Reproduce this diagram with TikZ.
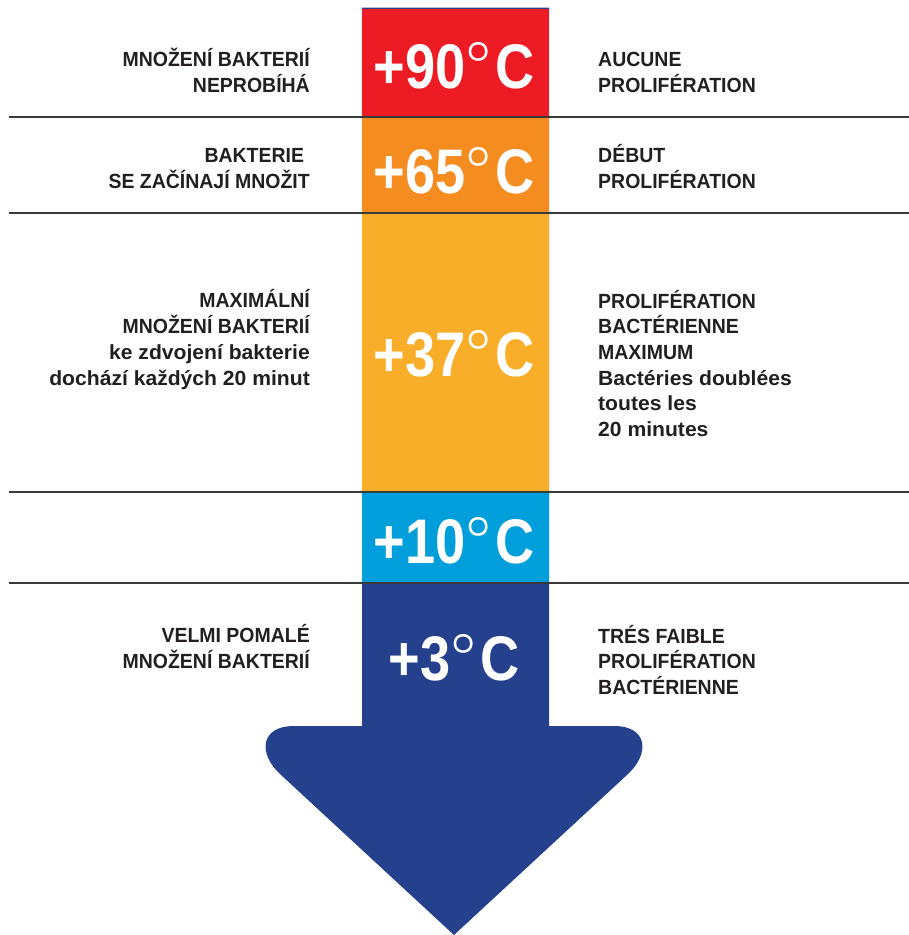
\documentclass[tikz,border=0pt]{standalone}
\usepackage{fontspec}
\setmainfont{Liberation Sans}
\newfontfamily\labelfont{Liberation Sans}[FakeStretch=0.95]
\newfontfamily\lowerfont{Liberation Sans}[FakeStretch=1.03]
\newfontfamily\tempfont{Liberation Sans}[FakeStretch=0.86]

% open degree ring used in the temperature labels
\newcommand\degring{\kern1.7pt\raisebox{26pt}{\scalebox{1.7}{\fontsize{24.88}{25}\selectfont\boldmath$\circ$}}\kern4.2pt}

\definecolor{ink}{HTML}{231F20}
\definecolor{hotred}{HTML}{ED1C24}
\definecolor{warmorange}{HTML}{F48C20}
\definecolor{bodyyellow}{HTML}{F9AE29}
\definecolor{coolblue}{HTML}{009EDB}
\definecolor{deepblue}{HTML}{25418E}
\definecolor{rule}{HTML}{3A3A3A}

\begin{document}
\begin{tikzpicture}[x=1pt,y=-1pt,
  labeltext/.style={text=ink, inner sep=0pt,
    font=\labelfont\bfseries\fontsize{20.5}{25.7}\selectfont},
  lefttext/.style={labeltext, align=right, anchor=base east},
  righttext/.style={labeltext, align=left, anchor=base west},
  temp/.style={text=white, inner sep=0pt, anchor=base,
    font=\tempfont\bfseries\fontsize{63}{63}\selectfont},
  separator/.style={draw=rule, line width=1.3pt},
]
\useasboundingbox (0,0) rectangle (909,935);

% the thermometer arrow: column plus rounded head
\fill[deepblue] (362,7.5) -- (549,7.5) -- (549,726) -- (614,726)
  .. controls (648,726) and (650,753.6) .. (628,774) -- (454,935)
  -- (280,774) .. controls (258,753.6) and (260,726) .. (294,726)
  -- (362,726) -- cycle;

% temperature bands
\fill[hotred]     (362,8.5) rectangle (549,117);
\fill[warmorange] (362,117) rectangle (549,213);
\fill[bodyyellow] (362,213) rectangle (549,492);
\fill[coolblue]   (362,492) rectangle (549,583);

% separators between the bands
\foreach \y in {117,213,492,583}
  \draw[separator] (9,\y) -- (909,\y);

% temperatures (anchored on the baseline)
\node[temp] (t90) at (454,88)  {+90\degring C};
\node[temp] (t65) at (454,193) {+65\degring C};
\node[temp] (t37) at (454,376) {+37\degring C};
\node[temp] (t10) at (454,563) {+10\degring C};
\node[temp] (t3)  at (454,680) {+3\degring C};

% Czech descriptions (anchored on the baseline of the last line)
\node[lefttext] (cz90) at (310,92)  {MNOŽENÍ BAKTERIÍ\\NEPROBÍHÁ};
\node[lefttext] (cz65) at (310,188) {BAKTERIE\hspace*{0.28em}\\SE ZAČÍNAJÍ MNOŽIT};
\node[lefttext] (cz37) at (310,385) {MAXIMÁLNÍ\\MNOŽENÍ BAKTERIÍ\\{\lowerfont ke zdvojení bakterie}\hspace*{0.28em}\\{\lowerfont dochází každých 20 minut}};
\node[lefttext] (cz3)  at (310,668.5) {VELMI POMALÉ\\MNOŽENÍ BAKTERIÍ};

% French descriptions
\node[righttext] (fr90) at (598,92)  {AUCUNE\\PROLIFÉRATION};
\node[righttext] (fr65) at (598,188) {DÉBUT\\PROLIFÉRATION};
\node[righttext] (fr37) at (598,436.5) {PROLIFÉRATION\\BACTÉRIENNE\\MAXIMUM\\{\lowerfont Bactéries doublées}\\{\lowerfont toutes les}\\{\lowerfont 20 minutes}};
\node[righttext] (fr3)  at (598,694.4) {TRÉS FAIBLE\\PROLIFÉRATION\\BACTÉRIENNE};
\end{tikzpicture}
\end{document}
